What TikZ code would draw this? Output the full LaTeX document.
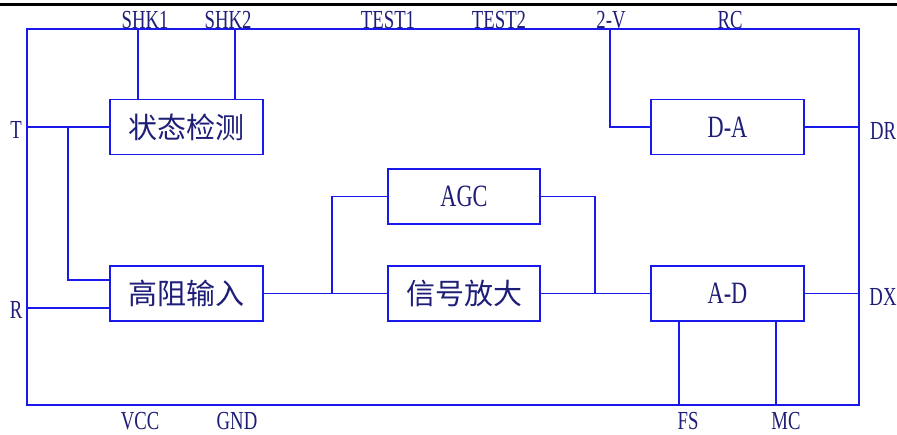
\documentclass[tikz,border=0pt]{standalone}
\usepackage{fontspec}
\newfontfamily\latinf[FakeStretch=0.72]{Liberation Serif}
\newfontfamily\cjkf{Noto Sans CJK SC}
\definecolor{lineblue}{RGB}{25,25,235}
\definecolor{textnavy}{RGB}{30,30,120}
\begin{document}
\begin{tikzpicture}[x=1pt,y=-1pt,
  wire/.style={draw=lineblue,line width=1.4pt},
  blk/.style={draw=lineblue,line width=1.4pt,minimum width=153pt,minimum height=55pt,inner sep=0pt,text=textnavy},
  latinbox/.style={font=\latinf\fontsize{31}{34}\selectfont},
  cjkbox/.style={font=\cjkf\fontsize{29}{32}\selectfont},
  pin/.style={anchor=base,inner sep=0pt,text=textnavy,font=\latinf\fontsize{26}{30}\selectfont}]
\useasboundingbox (0,0) rectangle (897,434);
\draw[line width=3pt] (0,4) -- (897,4);
% frame
\coordinate (fnw) at (27,29);
\coordinate (fse) at (859,405);
\draw[wire] (fnw) rectangle (fse);
% blocks
\node[blk,cjkbox] (zt) at (186.5,127) {状态检测};
\node[blk,cjkbox] (gz) at (186.5,293.5) {高阻输入};
\node[blk,latinbox,minimum width=152pt] (agc) at (464,196.5) {AGC};
\node[blk,cjkbox,minimum width=152pt] (xh) at (464,293.5) {信号放大};
\node[blk,latinbox] (da) at (727.5,127) {D-A};
\node[blk,latinbox] (ad) at (727.5,293.5) {A-D};
% pin coordinates
\coordinate (shk1) at (138,29);
\coordinate (shk2) at (235,29);
\coordinate (v2) at (610,29);
\coordinate (t) at (27,127);
\coordinate (tb) at (68,127);
\coordinate (r) at (27,308);
\coordinate (b1) at (332,293.5);
\coordinate (b2) at (595,293.5);
\coordinate (dr) at (859,127);
\coordinate (dx) at (859,293.5);
\coordinate (fs) at (679,405);
\coordinate (mc) at (776,405);
% connectors
\draw[wire] (shk1) -- (shk1 |- zt.north);
\draw[wire] (shk2) -- (shk2 |- zt.north);
\draw[wire] (t) -- (zt.west);
\draw[wire] (tb) |- ([yshift=13.5pt]gz.west);
\draw[wire] (r) -- (r -| gz.west);
\draw[wire] (gz.east) -- (xh.west);
\draw[wire] (b1) |- (agc.west);
\draw[wire] (agc.east) -| (b2);
\draw[wire] (xh.east) -- (ad.west);
\draw[wire] (v2) |- (da.west);
\draw[wire] (da.east) -- (dr);
\draw[wire] (ad.east) -- (dx);
\draw[wire] (fs) -- (fs |- ad.south);
\draw[wire] (mc) -- (mc |- ad.south);
% labels
\node[pin] (lshk1) at (145,28) {SHK1};
\node[pin] (lshk2) at (228,28) {SHK2};
\node[pin] (ltest1) at (388,28) {TEST1};
\node[pin] (ltest2) at (499,28) {TEST2};
\node[pin] (lv2) at (611,28) {2-V};
\node[pin] (lrc) at (730,28) {RC};
\node[pin] (lvcc) at (140,429) {VCC};
\node[pin] (lgnd) at (237,429) {GND};
\node[pin] (lfs) at (688,429) {FS};
\node[pin] (lmc) at (786,429) {MC};
\node[pin] (lt) at (16,138) {T};
\node[pin] (lr) at (16,318) {R};
\node[pin] (ldr) at (883,139) {DR};
\node[pin] (ldx) at (883,305) {DX};
\end{tikzpicture}
\end{document}
